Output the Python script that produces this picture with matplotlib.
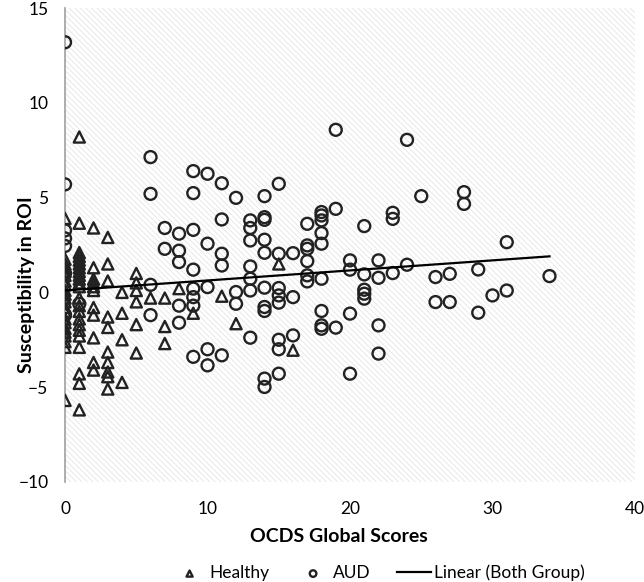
import numpy as np
import matplotlib
matplotlib.use("Agg")
import matplotlib.pyplot as plt
from matplotlib.patches import Rectangle

# ---- data ----
healthy_x = ([0] * 22 + [1] * 23 + [2] * 11 + [3] * 10 + [4] * 4 + [5] * 6
             + [6, 7, 7, 7, 8, 9, 11, 12, 15, 16])
healthy_y = [
    # x = 0
    3.9, 1.75, 1.5, 1.3, 1.1, 0.9, 0.6, 0.4, 0.1, -0.1, -0.3, -0.5, -0.8,
    -1.0, -1.4, -1.6, -1.9, -2.1, -2.3, -2.6, -2.9, -5.7,
    # x = 1
    8.2, 3.65, 2.1, 1.9, 1.7, 1.5, 1.3, 1.1, 0.9, 0.7, 0.5, 0.3, -0.3, -0.7,
    -1.0, -1.4, -1.7, -2.0, -2.3, -2.9, -4.3, -4.8, -6.2,
    # x = 2
    3.4, 1.3, 0.7, 0.5, 0.3, 0.1, -0.8, -1.2, -2.4, -3.7, -4.1,
    # x = 3
    2.9, 1.5, 0.6, -1.3, -1.85, -3.15, -3.7, -4.2, -4.45, -5.1,
    # x = 4
    0.0, -1.1, -2.5, -4.75,
    # x = 5
    1.0, 0.5, 0.1, -0.5, -1.7, -3.2,
    # x = 6 .. 16
    -0.3, -0.3, -1.8, -2.7, 0.2, -1.1, -0.2, -1.65, 1.5, -3.05,
]

aud_x = ([0] * 7 + [1] + [6] * 4 + [7] * 2 + [8] * 5 + [9] * 8 + [10] * 5
         + [11] * 5 + [12] * 3 + [13] * 7 + [14] * 10 + [15] * 8 + [16] * 3
         + [17] * 6 + [18] * 9 + [19] * 3 + [20] * 4 + [21] * 5 + [22] * 4
         + [23] * 3 + [24] * 2 + [25] + [26] * 2 + [27] * 2 + [28] * 2
         + [29] * 2 + [30] + [31] * 2 + [34])
aud_y = [
    13.2, 5.7, 3.27, 2.85, 2.45, 1.0, -1.2,          # 0
    -0.6,                                            # 1
    7.14, 5.2, 0.4, -1.2,                            # 6
    3.4, 2.3,                                        # 7
    3.1, 2.2, 1.6, -0.7, -1.6,                       # 8
    6.4, 5.24, 3.3, 1.2, 0.2, -0.25, -0.7, -3.4,     # 9
    6.26, 2.57, 0.28, -3.0, -3.85,                   # 10
    5.76, 3.85, 2.04, 1.42, -3.32,                   # 11
    4.99, 0.02, -0.6,                                # 12
    3.8, 3.4, 2.74, 1.37, 0.72, 0.1, -2.39,          # 13
    5.08, 3.97, 3.83, 2.78, 2.09, 0.25, -0.77, -0.98, -4.55, -4.99,  # 14
    5.73, 2.04, 0.23, -0.16, -0.54, -2.5, -3.0, -4.29,  # 15
    2.07, -0.25, -2.27,                              # 16
    3.62, 2.48, 2.3, 1.65, 0.9, 0.58,                # 17
    4.24, 4.06, 3.8, 3.13, 2.57, 0.72, -0.98, -1.74, -1.92,  # 18
    8.58, 4.41, -1.86,                               # 19
    1.69, 1.2, -1.12, -4.29,                         # 20
    3.5, 0.95, 0.14, -0.07, -0.33,                   # 21
    1.69, 0.77, -1.74, -3.23,                        # 22
    4.2, 3.88, 1.02,                                 # 23
    8.05, 1.46,                                      # 24
    5.08,                                            # 25
    0.81, -0.51,                                     # 26
    0.98, -0.51,                                     # 27
    5.29, 4.67,                                      # 28
    1.21, -1.07,                                     # 29
    -0.16,                                           # 30
    2.65, 0.1,                                       # 31
    0.86,                                            # 34
]

# trend line of both groups as shown in the figure
trend_intercept = 0.1
trend_slope = 0.053

x_ticks = [0, 10, 20, 30, 40]
y_ticks = [-10, -5, 0, 5, 10, 15]

all_x = np.array(healthy_x + aud_x, dtype=float)
fit_x = np.array([all_x.min(), all_x.max()])
fit_y = trend_intercept + trend_slope * fit_x

plt.rcParams['font.family'] = ['Lato', 'DejaVu Sans']
plt.rcParams['hatch.linewidth'] = 0.5
plt.rcParams['hatch.color'] = '#e0e0e0'

fig = plt.figure(figsize=(6.44, 5.82), dpi=100)
ax = fig.add_axes([0.101, 0.172, 0.885, 0.814])

# hatched plot area
ax.add_patch(Rectangle((0, 0), 1, 1, transform=ax.transAxes, facecolor='white',
                       edgecolor='#e0e0e0', hatch='\\' * 6, linewidth=0, zorder=0))

edge = '#222222'
ax.scatter(healthy_x, healthy_y, marker='^', s=64, facecolors='none',
           edgecolors=edge, linewidths=1.7, label='Healthy', zorder=3)
ax.scatter(aud_x, aud_y, marker='o', s=74, facecolors='none',
           edgecolors=edge, linewidths=1.7, label='AUD', zorder=3)
ax.plot(fit_x, fit_y, color='black', linewidth=1.6, label='Linear (Both Group)', zorder=4)

ax.set_xlim(0, 40)
ax.set_ylim(-10, 15)
ax.set_xticks(x_ticks)
ax.set_yticks(y_ticks)
ax.tick_params(length=0, labelsize=12.5)
ax.tick_params(axis='x', pad=14)
ax.tick_params(axis='y', pad=12)
for s in ['top', 'right', 'bottom']:
    ax.spines[s].set_visible(False)
ax.spines['left'].set_color('#a0a0a0')
ax.spines['left'].set_linewidth(1.2)

ax.set_xlabel('OCDS Global Scores', fontsize=14, fontweight='bold')
ax.set_ylabel('Susceptibility in ROI', fontsize=14, fontweight='bold')
ax.xaxis.set_label_coords(0.48, -0.097)
ax.yaxis.set_label_coords(-0.053, 0.416)

leg = ax.legend(loc='center', bbox_to_anchor=(0.55, -0.192), ncol=3,
                frameon=False, fontsize=12.5, markerscale=0.55, handlelength=2.0,
                columnspacing=1.5, handletextpad=0.15)

fig.savefig('out.png', dpi=100)
